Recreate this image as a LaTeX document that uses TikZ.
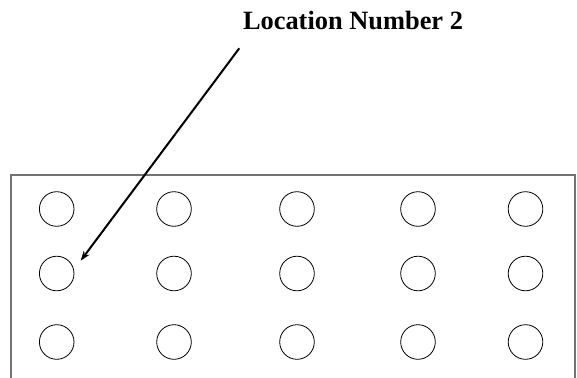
\documentclass[tikz,border=0pt]{standalone}
\usepackage{fontspec}
\setmainfont{Liberation Serif}
\usetikzlibrary{arrows.meta}
\begin{document}
\begin{tikzpicture}[x=1pt,y=-1pt,
  hole/.style={circle,draw=black,line width=0.8pt,minimum size=34.6pt,inner sep=0pt},
  frameline/.style={draw=black!55,line cap=rect},
  pointer/.style={line width=2pt,-{Stealth[length=10pt,width=7pt]}},
  label/.style={font=\fontsize{26.4}{30}\selectfont\bfseries,inner sep=0pt,anchor=base}]
\useasboundingbox (0,0) rectangle (577,377);
% frame (bottom edge outside the picture)
\draw[frameline,line width=1.2pt] (11,380) -- (11,174.5);
\draw[frameline,line width=2pt] (11,174.5) -- (575,174.5);
\draw[frameline,line width=1.2pt] (575,174.5) -- (575,380);
% holes
\foreach \r/\y in {1/209,2/273.5,3/342}{
  \foreach \c/\x in {1/56.7,2/174,3/297,4/418,5/525.5}{
    \node[hole] (h\r\c) at (\x,\y) {};
  }
}
% label and pointer
\node[label] (lab) at (353,30) {Location Number 2};
\coordinate (ps) at (239.3,48.3);
\coordinate (pe) at (80.7,260.7);
\draw[pointer] (ps) -- (pe);
\end{tikzpicture}
\end{document}
